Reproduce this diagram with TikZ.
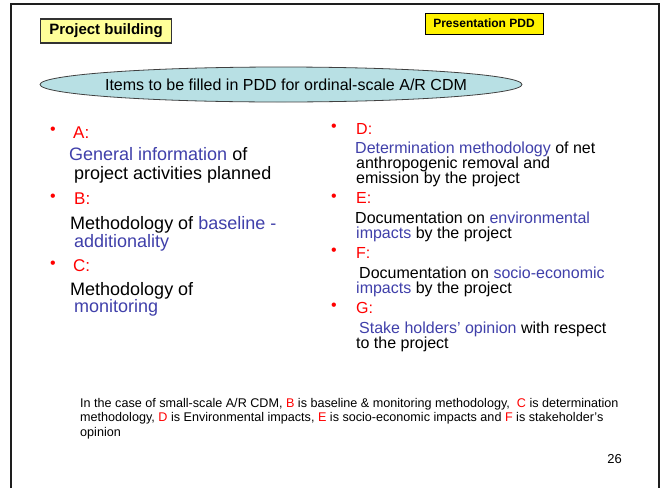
\documentclass[tikz,border=0pt]{standalone}
\usepackage{fontspec}
\setmainfont{Liberation Sans}
\usetikzlibrary{shapes.geometric}
\definecolor{bluetext}{RGB}{64,64,170}
\definecolor{ovalfill}{RGB}{184,224,228}
\definecolor{paleyellow}{RGB}{255,255,153}
\definecolor{frameline}{RGB}{30,30,30}
\newcommand{\bl}[1]{{\color{bluetext}#1}}
\newcommand{\rd}[1]{{\color{red}#1}}
\begin{document}
\begin{tikzpicture}[x=1pt,y=-1pt,
  txtL/.style={anchor=base west, inner sep=0pt, font=\fontsize{18}{18}\selectfont},
  txtR/.style={anchor=base west, inner sep=0pt, font=\fontsize{16}{16}\selectfont},
  letterL/.style={anchor=base west, inner sep=0pt, text=red, font=\fontsize{17}{17}\selectfont},
  letterR/.style={anchor=base west, inner sep=0pt, text=red, font=\fontsize{16}{16}\selectfont},
  bul/.style={anchor=center, inner sep=0pt, text=red, font=\fontsize{16}{16}\selectfont},
  note/.style={anchor=base west, inner sep=0pt, font=\fontsize{12.6}{14}\selectfont},
]
\useasboundingbox (0,0) rectangle (664,488);
\fill[white] (0,0) rectangle (664,488);
% slide frame, open at the bottom
\draw[line width=2pt, frameline] (11,488) -- (11,4) -- (659,4) -- (659,488);

% title tags
\node[draw=black!80, line width=1.2pt, fill=paleyellow, minimum width=131pt, minimum height=24pt,
      inner sep=0pt, font=\bfseries\fontsize{15}{15}\selectfont] (title) at (106,31) {Project building};
\node[draw=black, line width=1pt, fill=yellow, minimum width=118pt, minimum height=21pt,
      inner sep=0pt, font=\bfseries\fontsize{12}{12}\selectfont] (tag) at (484,23.5) {Presentation PDD};

% heading oval with its caption
\node[ellipse, draw=black!75, line width=0.8pt, fill=ovalfill, minimum width=482pt, minimum height=35pt,
      inner sep=0pt,
      label={[font=\fontsize{16}{16}\selectfont, inner sep=0pt, xshift=5pt]center:Items to be filled in PDD for ordinal-scale A/R CDM}]
      (oval) at (281,84.5) {};

% left column
\node[bul] (bA) at (53,131) {•};
\node[letterL] (lA) at (73,138) {A:};
\node[txtL] (tA1) at (69,160.5) {\bl{General information} of};
\node[txtL] (tA2) at (74,179) {project activities planned};
\node[bul] (bB) at (53,198) {•};
\node[letterL] (lB) at (74,204) {B:};
\node[txtL] (tB1) at (70,229) {Methodology of \bl{baseline -}};
\node[txtL] (tB2) at (74,247) {\bl{additionality}};
\node[bul] (bC) at (53,265) {•};
\node[letterL] (lC) at (73,271) {C:};
\node[txtL] (tC1) at (70,295) {Methodology of};
\node[txtL] (tC2) at (74,312) {\bl{monitoring}};

% right column
\node[bul] (bD) at (334,128) {•};
\node[letterR] (lD) at (356,134) {D:};
\node[txtR] (tD1) at (355,153) {\bl{Determination methodology} of net};
\node[txtR] (tD2) at (356,168) {anthropogenic removal and};
\node[txtR] (tD3) at (356,183) {emission by the project};
\node[bul] (bE) at (334,198) {•};
\node[letterR] (lE) at (356,203) {E:};
\node[txtR] (tE1) at (355,223) {Documentation on \bl{environmental}};
\node[txtR] (tE2) at (356,238) {\bl{impacts} by the project};
\node[bul] (bF) at (334,252) {•};
\node[letterR] (lF) at (356,258) {F:};
\node[txtR] (tF1) at (359,278) {Documentation on \bl{socio-economic}};
\node[txtR] (tF2) at (356,293) {\bl{impacts} by the project};
\node[bul] (bG) at (334,307) {•};
\node[letterR] (lG) at (356,313) {G:};
\node[txtR] (tG1) at (359,333) {\bl{Stake holders’ opinion} with respect};
\node[txtR] (tG2) at (356,348) {to the project};

% footnote
\node[note] (n1) at (80,407) {In the case of small-scale A/R CDM, \rd{B} is baseline \& monitoring methodology,\ \ \rd{C} is determination};
\node[note] (n2) at (80,421.5) {methodology, \rd{D} is Environmental impacts, \rd{E} is socio-economic impacts and \rd{F} is stakeholder’s};
\node[note] (n3) at (80,436) {opinion};

% page number
\node[anchor=base east, inner sep=0pt, font=\fontsize{13}{13}\selectfont] (page) at (622,463) {26};
\end{tikzpicture}
\end{document}
